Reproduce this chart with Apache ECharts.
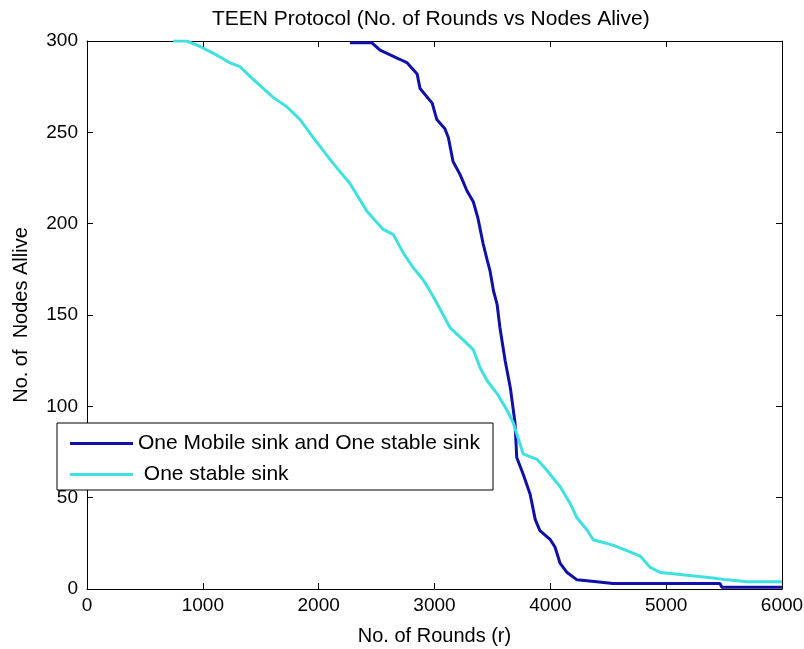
<!DOCTYPE html>
<html>
<head>
<meta charset="utf-8">
<script src="https://cdn.jsdelivr.net/npm/echarts@6/dist/echarts.min.js"></script>
<style>
  html, body { margin: 0; padding: 0; background: #fff; }
  #main { width: 804px; height: 649px; }
</style>
</head>
<body>
<div id="main"></div>
<script>
// rounds vs nodes alive
var mobileX = [2270, 2460, 2530, 2700, 2765, 2850, 2875, 2980, 3020, 3090, 3120, 3160, 3220, 3280, 3335, 3375, 3420, 3455, 3480, 3510, 3540, 3565, 3595, 3610, 3655, 3695, 3710, 3765, 3825, 3870, 3910, 4000, 4040, 4085, 4145, 4230, 4400, 4540, 5465, 5480, 6000];
var mobileY = [299, 299, 295, 290, 288, 282, 274, 266, 257, 252, 247, 234, 227, 218, 212, 203, 189, 180, 174, 163, 156, 143, 131, 125, 110, 91, 72, 63, 52, 38, 32, 27, 23, 14, 9, 5, 4, 3, 3, 1, 1];

var stableX = [743, 860, 975, 1100, 1235, 1320, 1435, 1610, 1725, 1840, 1955, 2125, 2270, 2415, 2555, 2645, 2730, 2815, 2905, 2990, 3050, 3135, 3220, 3335, 3395, 3455, 3540, 3625, 3680, 3765, 3885, 3970, 4085, 4170, 4230, 4320, 4370, 4540, 4660, 4775, 4860, 4950, 5120, 5405, 5525, 5700, 6000];
var stableY = [300, 300, 297, 293, 288, 286, 279, 269, 264, 257, 247, 233, 222, 207, 197, 194, 184, 176, 169, 160, 153, 143, 138, 131, 121, 114, 107, 98, 91, 74, 71, 65, 56, 47, 39, 32, 27, 24, 21, 18, 12, 9, 8, 6, 5, 4, 4];

var seriesNames = ['One Mobile sink and One stable sink', ' One stable sink'];
var xTicks = [0, 6000, 1000];
var yTicks = [0, 300, 50];

function pairs(xs, ys) {
  var out = [];
  for (var i = 0; i < xs.length; i++) out.push([xs[i], ys[i]]);
  return out;
}

var font = 'Liberation Sans, Arial, sans-serif';
var chart = echarts.init(document.getElementById('main'), null, { renderer: 'canvas' });

var tickStyle = { show: true, inside: true, length: 6, lineStyle: { color: '#000', width: 1 } };
var lineStyle = { show: true, onZero: false, lineStyle: { color: '#000', width: 1 } };
var labelStyle = { color: '#000', fontSize: 20, fontFamily: font };
var tickLabel = { color: '#000', fontSize: 19, fontFamily: font, formatter: function (v) { return String(v); } };

var option = {
  animation: false,
  backgroundColor: '#fff',
  title: {
    text: 'TEEN Protocol (No. of Rounds vs Nodes Alive)',
    left: 207,
    top: 4,
    textStyle: { color: '#000', fontSize: 21, fontWeight: 'normal', fontFamily: font }
  },
  grid: { left: 87, right: 22, top: 41, bottom: 60, outerBoundsMode: 'none' },
  legend: {
    orient: 'vertical',
    left: 57,
    top: 423,
    padding: [10, 13, 5, 13],
    icon: 'rect',
    itemWidth: 63,
    itemHeight: 3,
    itemGap: 10,
    borderColor: '#000',
    borderWidth: 1,
    borderRadius: 0,
    backgroundColor: '#fff',
    textStyle: { color: '#000', fontSize: 21, fontFamily: font },
    data: seriesNames
  },
  xAxis: [
    {
      type: 'value', min: xTicks[0], max: xTicks[1], interval: xTicks[2],
      name: 'No. of Rounds (r)', nameLocation: 'middle', nameGap: 37,
      nameTextStyle: labelStyle,
      axisLine: lineStyle, axisTick: tickStyle, splitLine: { show: false },
      axisLabel: Object.assign({ margin: 7 }, tickLabel)
    },
    {
      type: 'value', position: 'top', min: xTicks[0], max: xTicks[1], interval: xTicks[2],
      axisLine: lineStyle, axisTick: tickStyle, splitLine: { show: false },
      axisLabel: { show: false }
    }
  ],
  yAxis: [
    {
      type: 'value', min: yTicks[0], max: yTicks[1], interval: yTicks[2],
      name: 'No. of  Nodes Allive', nameLocation: 'middle', nameGap: 56,
      nameTextStyle: labelStyle,
      axisLine: lineStyle, axisTick: tickStyle, splitLine: { show: false },
      axisLabel: Object.assign({ margin: 9 }, tickLabel)
    },
    {
      type: 'value', position: 'right', min: yTicks[0], max: yTicks[1], interval: yTicks[2],
      axisLine: lineStyle, axisTick: tickStyle, splitLine: { show: false },
      axisLabel: { show: false }
    }
  ],
  series: [
    {
      name: seriesNames[0],
      type: 'line',
      symbol: 'none',
      color: '#1010a8',
      lineStyle: { width: 3, color: '#1010a8' },
      data: pairs(mobileX, mobileY)
    },
    {
      name: seriesNames[1],
      type: 'line',
      symbol: 'none',
      color: '#40e0e0',
      lineStyle: { width: 3, color: '#40e0e0' },
      data: pairs(stableX, stableY)
    }
  ]
};
chart.setOption(option);
</script>
</body>
</html>
